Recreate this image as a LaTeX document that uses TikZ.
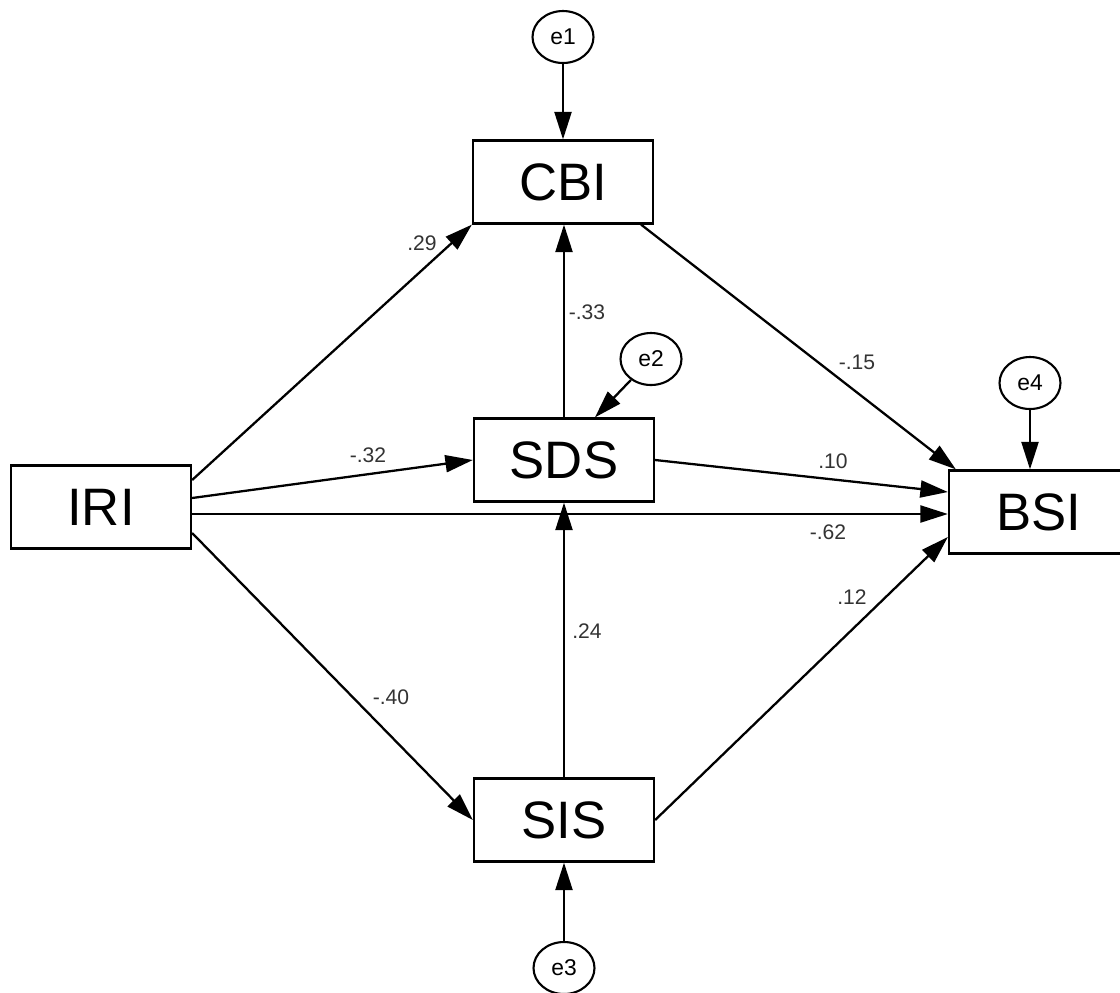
\documentclass[tikz,border=0pt]{standalone}
\usepackage{fontspec}
\setmainfont{Liberation Sans}
\usetikzlibrary{arrows.meta,shapes.geometric}

\begin{document}
\begin{tikzpicture}[x=0.02cm, y=-0.02cm,
  var/.style={rectangle, draw, line width=1.3pt, minimum width=3.6cm, minimum height=1.66cm, inner sep=0pt, font=\fontsize{30}{36}\selectfont},
  err/.style={ellipse, draw, line width=1.2pt, minimum width=1.22cm, minimum height=1.04cm, inner sep=0pt, font=\fontsize{13}{15}\selectfont},
  effect/.style={line width=1.3pt, -{Triangle[length=5.5mm,width=3.4mm]}},
  coef/.style={font=\fontsize{12}{14}\selectfont, inner sep=0pt, text=black!80}]

  \useasboundingbox (0,0) rectangle (1120,992);

  % VARIABLES
  \node [var] (CBI) at (563,182) {CBI};
  \node [var] (SDS) at (564,460) {SDS};
  \node [var] (SIS) at (564,820) {SIS};
  \node [var] (IRI) at (101,507) {IRI};
  \node [var] (BSI) at (1039,512) {BSI};

  % ERRORS
  \node [err] (e1) at (563,37) {e1};
  \node [err] (e2) at (651,359) {e2};
  \node [err] (e3) at (564,968) {e3};
  \node [err] (e4) at (1030,383) {e4};

  \draw [effect] (e1) -- (CBI);
  \draw [effect] (e2) -- ([xshift=0.62cm]SDS.north);
  \draw [effect] (e3) -- (SIS);
  \draw [effect] (e4) -- (e4 |- BSI.north);

  % PATHS
  \coordinate (iri-bsi) at ([yshift=-0.14cm]IRI.east);
  \draw [effect] ([yshift=0.54cm]IRI.east) -- (CBI.south west);
  \draw [effect] ([yshift=0.18cm]IRI.east) -- (SDS.west);
  \draw [effect] (iri-bsi) -- (iri-bsi -| BSI.west);
  \draw [effect] ([yshift=-0.52cm]IRI.east) -- (SIS.west);

  \draw [effect] (SDS.north) -- (SDS.north |- CBI.south);
  \draw [effect] (SIS.north) -- (SIS.north |- SDS.south);

  \draw [effect] ([xshift=-0.26cm]CBI.south east) -- ([xshift=0.16cm]BSI.north west);
  \draw [effect] (SDS.east) -- ([yshift=0.4cm]BSI.west);
  \draw [effect] (SIS.east) -- ([yshift=-0.5cm]BSI.west);

  % COEFFICIENTS
  \node [coef] (c29) at (422,243) {.29};
  \node [coef] (c32) at (368,455) {-.32};
  \node [coef] (c33) at (587,312) {-.33};
  \node [coef] (c15) at (857,362) {-.15};
  \node [coef] (c10) at (833,461) {.10};
  \node [coef] (c62) at (828,532) {-.62};
  \node [coef] (c24) at (587,631) {.24};
  \node [coef] (c12) at (852,597) {.12};
  \node [coef] (c40) at (391,697) {-.40};

\end{tikzpicture}
\end{document}
